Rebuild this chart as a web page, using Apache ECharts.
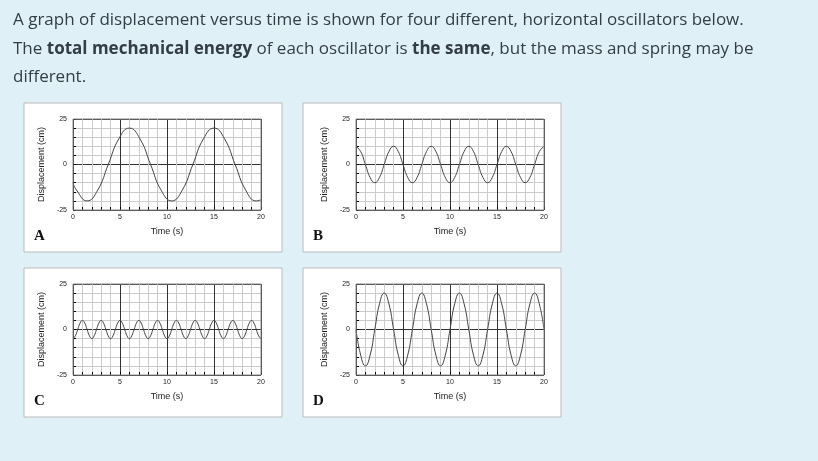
<!DOCTYPE html>
<html><head><meta charset="utf-8">
<script src="https://cdn.jsdelivr.net/npm/echarts@6/dist/echarts.min.js"></script>
<style>html,body{margin:0;padding:0;background:#dff0f7}#c{width:818px;height:461px}</style>
</head><body><div id="c"></div>
<script>
// Time samples (s)
const timeA = [0,0.375,1.5,2.625,3.75,4.875,6,7.125,8.25,9.375,10.5,11.625,12.75,13.875,15,16.125,17.25,18.375,19.5,20];
const dispA = [-10,-14.1,-20,-14.1,0,14.1,20,14.1,0,-14.1,-20,-14.1,0,14.1,20,14.1,0,-14.1,-20,-19.4];
const timeHalf = [0,0.5,1,1.5,2,2.5,3,3.5,4,4.5,5,5.5,6,6.5,7,7.5,8,8.5,9,9.5,10,10.5,11,11.5,12,12.5,13,13.5,14,14.5,15,15.5,16,16.5,17,17.5,18,18.5,19,19.5,20];
const dispB = [10,7.1,0,-7.1,-10,-7.1,0,7.1,10,7.1,0,-7.1,-10,-7.1,0,7.1,10,7.1,0,-7.1,-10,-7.1,0,7.1,10,7.1,0,-7.1,-10,-7.1,0,7.1,10,7.1,0,-7.1,-10,-7.1,0,7.1,10];
const dispD = [0,-14.1,-20,-14.1,0,14.1,20,14.1,0,-14.1,-20,-14.1,0,14.1,20,14.1,0,-14.1,-20,-14.1,0,14.1,20,14.1,0,-14.1,-20,-14.1,0,14.1,20,14.1,0,-14.1,-20,-14.1,0,14.1,20,14.1,0];
const timeQuarter = [0,0.25,0.5,0.75,1,1.25,1.5,1.75,2,2.25,2.5,2.75,3,3.25,3.5,3.75,4,4.25,4.5,4.75,5,5.25,5.5,5.75,6,6.25,6.5,6.75,7,7.25,7.5,7.75,8,8.25,8.5,8.75,9,9.25,9.5,9.75,10,10.25,10.5,10.75,11,11.25,11.5,11.75,12,12.25,12.5,12.75,13,13.25,13.5,13.75,14,14.25,14.5,14.75,15,15.25,15.5,15.75,16,16.25,16.5,16.75,17,17.25,17.5,17.75,18,18.25,18.5,18.75,19,19.25,19.5,19.75,20];
const dispC = [-5,-3.5,0,3.5,5,3.5,0,-3.5,-5,-3.5,0,3.5,5,3.5,0,-3.5,-5,-3.5,0,3.5,5,3.5,0,-3.5,-5,-3.5,0,3.5,5,3.5,0,-3.5,-5,-3.5,0,3.5,5,3.5,0,-3.5,-5,-3.5,0,3.5,5,3.5,0,-3.5,-5,-3.5,0,3.5,5,3.5,0,-3.5,-5,-3.5,0,3.5,5,3.5,0,-3.5,-5,-3.5,0,3.5,5,3.5,0,-3.5,-5,-3.5,0,3.5,5,3.5,0,-3.5,-5];
const panelLabels = ['A','B','C','D'];
const xTicks = [0,5,10,15,20];
const yTicks = [-25,0,25];

const pair = (t,v) => t.map((x,i)=>[x,v[i]]);
const panels = [
  {data: pair(timeA,dispA), left:73, top:119, bx:24, by:103},
  {data: pair(timeHalf,dispB), left:356, top:119, bx:303, by:103},
  {data: pair(timeQuarter,dispC), left:73, top:284, bx:24, by:268},
  {data: pair(timeHalf,dispD), left:356, top:284, bx:303, by:268}
];
const grid=[],xAxis=[],yAxis=[],series=[],graphic=[];
const txt='#333d44', f='"Open Sans", sans-serif';
graphic.push({type:'text',left:13,top:12,style:{text:'A graph of displacement versus time is shown for four different, horizontal oscillators below.',font:'17px '+f,fill:txt}});
graphic.push({type:'text',left:13,top:41,style:{text:'The {b|total mechanical energy} of each oscillator is {b|the same}, but the mass and spring may be',font:'17px '+f,fill:txt,rich:{b:{fontWeight:'bold',fontSize:17,fontFamily:'Open Sans',fill:txt}}}});
graphic.push({type:'text',left:13,top:69,style:{text:'different.',font:'17px '+f,fill:txt}});
panels.forEach((p,i)=>{
  graphic.push({type:'rect',shape:{x:p.bx,y:p.by,width:258,height:149},style:{fill:'#fff',stroke:'#bbb',lineWidth:1},z:-1});
  graphic.push({type:'text',x:p.bx+10,y:p.by+126,style:{text:panelLabels[i],font:'bold 15px "Liberation Serif", serif',fill:'#111'}});
  grid.push({left:p.left,top:p.top,width:188,height:91});
  xAxis.push({type:'value',gridIndex:i,min:0,max:20,interval:5,name:'Time (s)',nameLocation:'middle',nameGap:17,
    nameTextStyle:{fontSize:9,color:'#222',fontFamily:'Arial'},
    axisLine:{show:false,onZero:false},axisTick:{show:true,length:3,inside:true,lineStyle:{color:'#000'}},
    minorTick:{show:true,splitNumber:5,length:3,lineStyle:{color:'#000'}},
    axisLabel:{fontSize:7,color:'#222',margin:4},
    splitLine:{show:true,lineStyle:{color:'#333',width:1}},
    minorSplitLine:{show:true,lineStyle:{color:'#ccc',width:1}}});
  yAxis.push({type:'value',gridIndex:i,min:-25,max:25,interval:25,name:'Displacement (cm)',nameLocation:'middle',nameGap:27,
    nameTextStyle:{fontSize:9,color:'#222',fontFamily:'Arial'},
    axisLine:{show:false,onZero:false},axisTick:{show:true,length:3,inside:true,lineStyle:{color:'#000'}},
    minorTick:{show:true,splitNumber:5,length:3,lineStyle:{color:'#000'}},
    axisLabel:{fontSize:7,color:'#222',margin:6},
    splitLine:{show:true,lineStyle:{color:'#333',width:1}},
    minorSplitLine:{show:true,lineStyle:{color:'#ccc',width:1}}});
  series.push({type:'line',xAxisIndex:i,yAxisIndex:i,data:p.data,smooth:true,showSymbol:false,lineStyle:{color:'#444',width:1},silent:true});
  graphic.push({type:'rect',shape:{x:p.left,y:p.top,width:188,height:91},style:{fill:'none',stroke:'#888',lineWidth:1},z:10});
});
const chart=echarts.init(document.getElementById('c'));
chart.setOption({animation:false,backgroundColor:'#dff0f7',grid,xAxis,yAxis,series,graphic});
</script></body></html>
